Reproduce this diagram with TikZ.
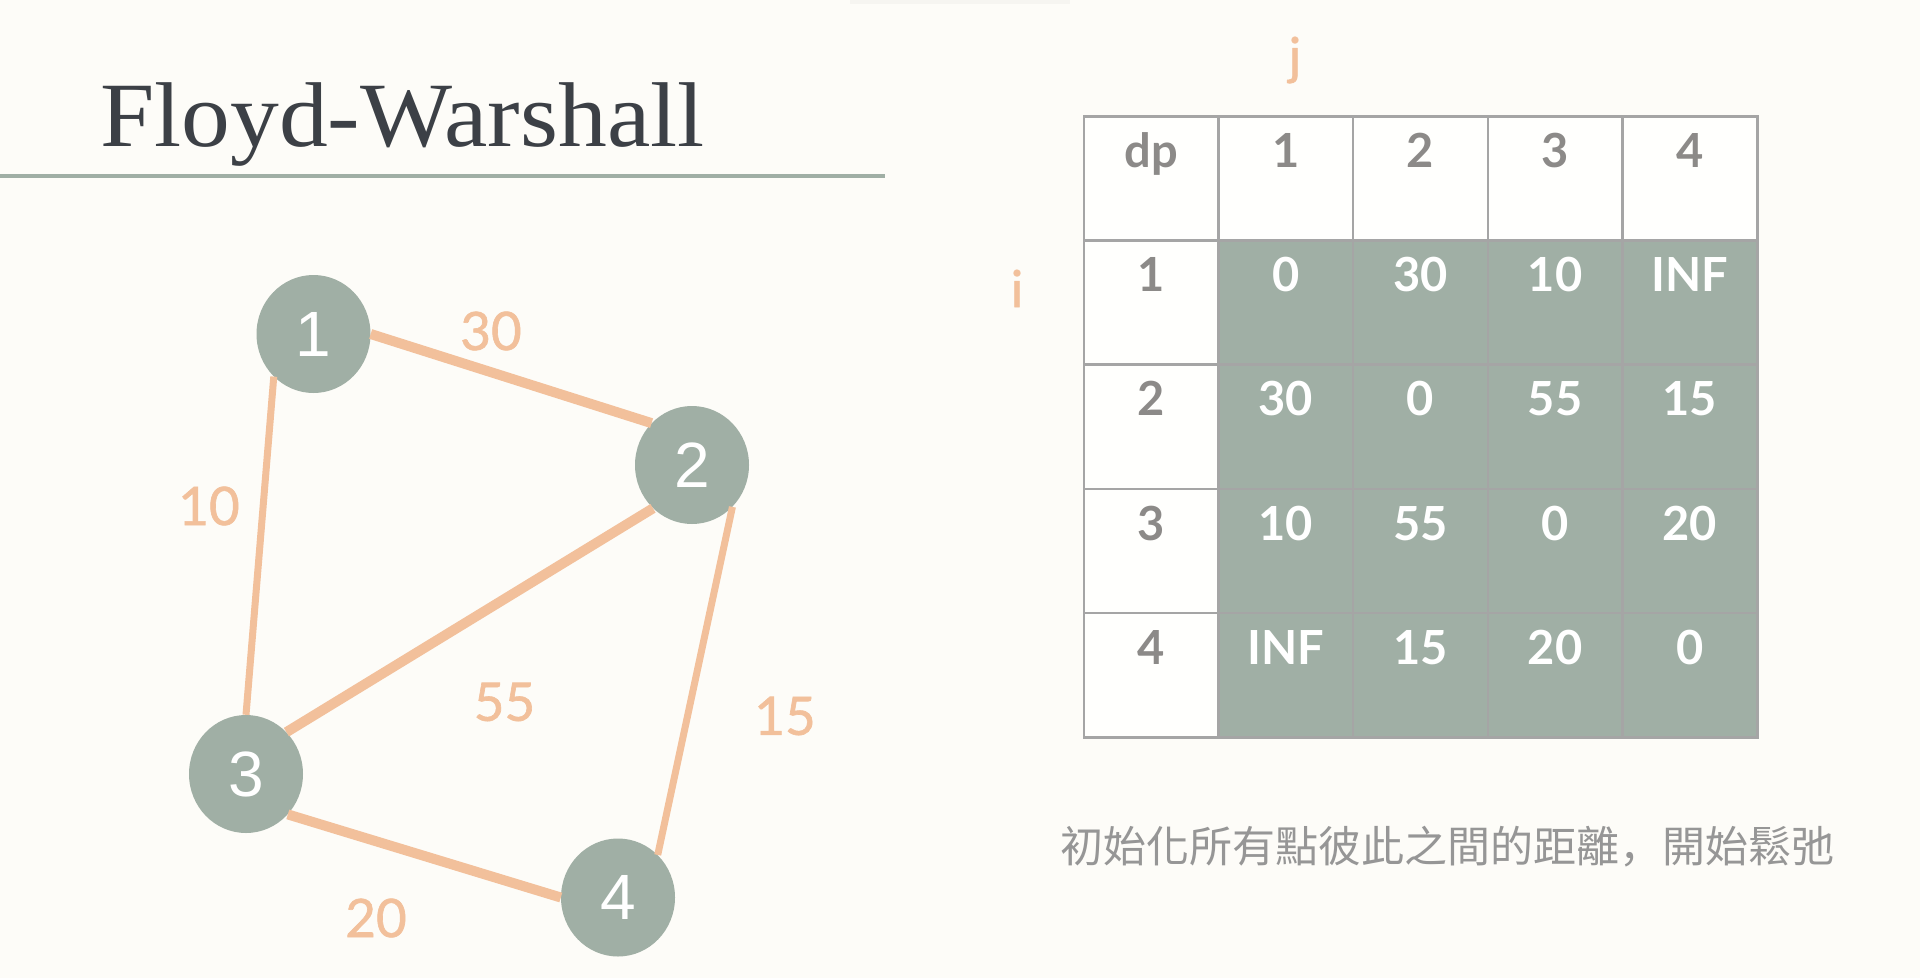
\documentclass[tikz,border=0pt]{standalone}
\usepackage{fontspec}
\usepackage{graphicx}
\setmainfont{Lato}
\newfontfamily\latomed{Lato}[FakeBold=1.2]
\newfontfamily\titlefont{Liberation Serif}
\newfontfamily\nodefont{Liberation Sans}
\newfontfamily\cjk{Noto Sans CJK TC}
\newfontfamily\cjksc{Noto Sans CJK SC}
\usetikzlibrary{shapes.geometric}
\definecolor{bg}{RGB}{253,252,248}
\definecolor{sage}{RGB}{160,175,165}
\definecolor{peach}{RGB}{242,192,155}
\definecolor{titlegray}{RGB}{60,64,70}
\definecolor{textgray}{RGB}{140,138,136}
\definecolor{gridgray}{RGB}{165,165,165}
\definecolor{cjkgray}{RGB}{150,150,150}
\definecolor{cellwhite}{RGB}{255,255,253}
\definecolor{shadowgray}{RGB}{246,245,241}
\begin{document}
\begin{tikzpicture}[x=1pt,y=-1pt,
  vertex/.style={ellipse, fill=sage, minimum width=114pt, minimum height=118pt, inner sep=0pt, text=white, font=\nodefont\fontsize{64}{64}\selectfont},
  edgeline/.style={draw=peach, line width=10pt},
  thinedge/.style={draw=peach, line width=7pt},
  weight/.style={text=peach, inner sep=0pt, font=\latomed\fontsize{53}{53}\selectfont},
  cellbox/.style={draw=gridgray, line width=2.5pt, minimum width=134.7pt, minimum height=124.2pt, inner sep=0pt, anchor=north west},
  headtext/.style={text=textgray, anchor=base, inner sep=0pt, font=\bfseries\fontsize{47}{47}\selectfont},
  valtext/.style={text=white, anchor=base, inner sep=0pt, font=\bfseries\fontsize{47}{47}\selectfont},
  axislabel/.style={text=peach, anchor=base, inner sep=0pt, font=\latomed\fontsize{51}{51}\selectfont},
]
\useasboundingbox[fill=bg] (0,0) rectangle (1920,978);
\fill[shadowgray] (850,0) rectangle (1070,4);

% title
\node[anchor=base west, inner sep=0pt, text=titlegray, font=\titlefont\fontsize{92}{92}\selectfont] (title) at (100,146) {\scalebox{1.06}[1]{Floyd-Warshall}};
\draw[sage, line width=4pt] (0,176) -- (885,176);

% graph
\node[vertex] (n1) at (313.5,334) {1};
\node[vertex] (n2) at (692,465) {2};
\node[vertex] (n3) at (246,774) {3};
\node[vertex] (n4) at (618,897.5) {4};

\draw[edgeline] (n1.east) -- (n2.134);
\draw[thinedge] (n1.227) -- (n3.north);
\draw[edgeline] (n2.228) -- (n3.46);
\draw[thinedge] (n2.314) -- (n4.47);
\draw[edgeline] (n3.316) -- (n4.west);

\node[weight] (w12) at (491,331) {30};
\node[weight] (w13) at (209,506) {10};
\node[weight] (w23) at (504.5,702) {55};
\node[weight] (w24) at (785,716) {15};
\node[weight] (w34) at (376,918) {20};

% table
\foreach \r in {0,...,4} {
  \foreach \c in {0,...,4} {
    \pgfmathtruncatemacro{\isdata}{(\r>0)&&(\c>0)}
    \ifnum\isdata=1
      \node[cellbox, fill=sage] (c-\r-\c) at ({1082.5+134.7*\c},{115+124.2*\r}) {};
    \else
      \node[cellbox, fill=cellwhite] (c-\r-\c) at ({1082.5+134.7*\c},{115+124.2*\r}) {};
    \fi
  }
}
\foreach \c/\t in {0/dp,1/1,2/2,3/3,4/4}
  \node[headtext] (h-\c) at ([yshift=-52.5pt]c-0-\c.north) {\t};
\foreach \r in {1,...,4}
  \node[headtext] (rh-\r) at ([yshift=-52.5pt]c-\r-0.north) {\r};
\foreach \c/\t in {1/0,2/30,3/10,4/INF}
  \node[valtext] (v-1-\c) at ([yshift=-52.5pt]c-1-\c.north) {\t};
\foreach \c/\t in {1/30,2/0,3/55,4/15}
  \node[valtext] (v-2-\c) at ([yshift=-52.5pt]c-2-\c.north) {\t};
\foreach \c/\t in {1/10,2/55,3/0,4/20}
  \node[valtext] (v-3-\c) at ([yshift=-52.5pt]c-3-\c.north) {\t};
\foreach \c/\t in {1/INF,2/15,3/20,4/0}
  \node[valtext] (v-4-\c) at ([yshift=-52.5pt]c-4-\c.north) {\t};

\node[axislabel] (jlab) at (1295,74) {j};
\node[axislabel] (ilab) at (1017,307) {i};

% caption
\node[anchor=base west, inner sep=0pt, text=cjkgray, font=\cjk\fontsize{43}{43}\selectfont] (note) at (1060,862) {初始化所有點彼此之間的距離{\cjksc ，}開始鬆弛};
\end{tikzpicture}
\end{document}
